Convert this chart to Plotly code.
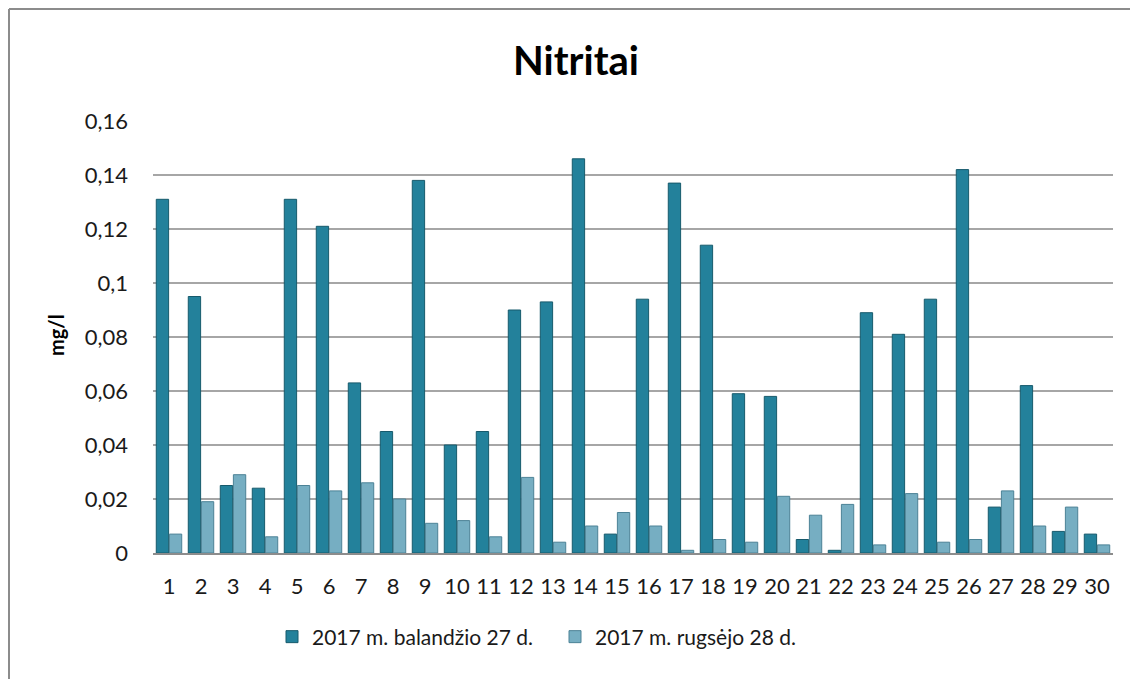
import plotly.graph_objects as go

# sampling points 1..30
stations = [str(i) for i in range(1, 31)]

# nitrite, mg/l
april_27 = [0.131, 0.095, 0.025, 0.024, 0.131, 0.121, 0.063, 0.045, 0.138, 0.040,
            0.045, 0.090, 0.093, 0.146, 0.007, 0.094, 0.137, 0.114, 0.059, 0.058,
            0.005, 0.001, 0.089, 0.081, 0.094, 0.142, 0.017, 0.062, 0.008, 0.007]
sept_28 = [0.007, 0.019, 0.029, 0.006, 0.025, 0.023, 0.026, 0.020, 0.011, 0.012,
           0.006, 0.028, 0.004, 0.010, 0.015, 0.010, 0.001, 0.005, 0.004, 0.021,
           0.014, 0.018, 0.003, 0.022, 0.004, 0.005, 0.023, 0.010, 0.017, 0.003]

y_ticks = [0, 0.02, 0.04, 0.06, 0.08, 0.1, 0.12, 0.14, 0.16]
y_tick_text = ["0", "0,02", "0,04", "0,06", "0,08", "0,1", "0,12", "0,14", "0,16"]

FONT = "Lato"
OFF = 8  # page body margin of the html page
W, H = 1138 - OFF, 679 - OFF
ML, MT = 153 - OFF, 121 - OFF
MR, MB = W - (1113 - OFF), H - (553 - OFF)
PW, PH = W - ML - MR, H - MT - MB


def px_x(x):
    # screen pixel -> paper x
    return (x - OFF - ML) / PW


def px_y(y):
    # screen pixel -> paper y
    return 1 - (y - OFF - MT) / PH


fig = go.Figure()
fig.add_trace(go.Bar(x=stations, y=april_27, name="2017 m. balandžio 27 d.",
                     marker=dict(color="#23819b", line=dict(color="#175a6c", width=1))))
fig.add_trace(go.Bar(x=stations, y=sept_28, name="2017 m. rugsėjo 28 d.",
                     marker=dict(color="#76aec2", line=dict(color="#4c8296", width=1))))

# outer frame: only left and top edges are visible
frame = dict(color="#8c8c8c", width=2)
fig.add_shape(type="line", xref="paper", yref="paper",
              x0=px_x(9), x1=px_x(9), y0=px_y(679), y1=px_y(9), line=frame)
fig.add_shape(type="line", xref="paper", yref="paper",
              x0=px_x(9), x1=px_x(1138), y0=px_y(9), y1=px_y(9), line=frame)

fig.add_annotation(text="<b>mg/l</b>", textangle=-90, xref="paper", yref="paper",
                   x=px_x(56), y=px_y(335), xanchor="center", yanchor="middle",
                   showarrow=False, font=dict(family=FONT, size=20, color="#000000"))

fig.update_layout(
    width=W, height=H,
    margin=dict(l=ML, r=MR, t=MT, b=MB),
    paper_bgcolor="white", plot_bgcolor="white",
    title=dict(text="<b>Nitritai</b>", x=(576 - OFF) / W, xanchor="center",
               y=1 - (61 - OFF) / H, yanchor="middle",
               font=dict(family=FONT, size=40, color="#000000")),
    font=dict(family=FONT, size=22, color="#1a1a1a"),
    barmode="group", bargap=0.18, bargroupgap=0.06,
    showlegend=True,
    legend=dict(orientation="h", x=(272 - OFF) / W, xref="container", xanchor="left",
                y=1 - (637 - OFF) / H, yref="container", yanchor="middle",
                font=dict(family=FONT, size=21, color="#1a1a1a"),
                entrywidth=238, itemwidth=30),
    xaxis=dict(type="category", showgrid=False, showline=True, linecolor="#8c8c8c",
               linewidth=2, ticks="", ticklabelstandoff=13),
    yaxis=dict(range=[0, 0.16], tickvals=y_ticks, ticktext=y_tick_text,
               showgrid=True, gridcolor="#a6a6a6", gridwidth=1.5,
               zeroline=False, showline=False, ticks="", ticklabelstandoff=24),
)

fig.write_html("out.html")
